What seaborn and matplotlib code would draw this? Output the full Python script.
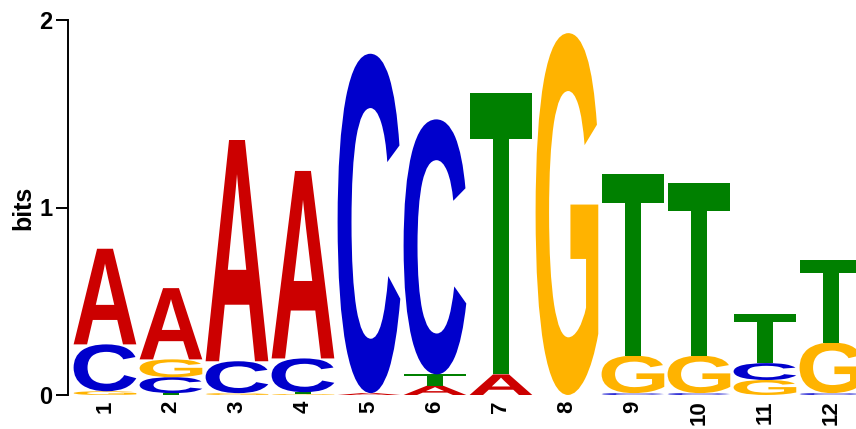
import matplotlib
matplotlib.use("Agg")
import matplotlib.pyplot as plt
import seaborn as sns
from matplotlib.textpath import TextPath
from matplotlib.patches import PathPatch
from matplotlib.font_manager import FontProperties
from matplotlib.transforms import Affine2D

# information content (bits) per letter at each motif position
positions = list(range(1, 13))
bits_A = [0.51, 0.38, 1.18, 1.00, 0.01, 0.05, 0.11, 0.00, 0.00, 0.00, 0.00, 0.00]
bits_C = [0.25, 0.085, 0.17, 0.18, 1.81, 1.36, 0.00, 0.00, 0.01, 0.01, 0.09, 0.01]
bits_G = [0.02, 0.095, 0.01, 0.005, 0.00, 0.00, 0.00, 1.93, 0.20, 0.20, 0.08, 0.27]
bits_T = [0.00, 0.01, 0.00, 0.01, 0.00, 0.06, 1.50, 0.00, 0.97, 0.92, 0.26, 0.44]
letter_colors = {"A": "#CC0000", "C": "#0000CC", "G": "#FFB300", "T": "#008000"}

sns.set_style("ticks")
plt.rcParams["font.family"] = ["Liberation Sans", "DejaVu Sans"]
plt.rcParams["font.weight"] = "bold"

fig = plt.figure(figsize=(8.56, 4.29), dpi=100)
ax = fig.add_axes([68 / 856, 34 / 429, 1 - 68 / 856, 375 / 429])

glyph_font = FontProperties(family="Liberation Sans", weight="bold")
col_width = 0.95

heights = {"A": bits_A, "C": bits_C, "G": bits_G, "T": bits_T}
for i, pos in enumerate(positions):
    stack = sorted(((heights[l][i], l) for l in "ACGT"), key=lambda t: t[0])
    y = 0.0
    for h, letter in stack:
        if h <= 0:
            continue
        tp = TextPath((0, 0), letter, size=1, prop=glyph_font)
        bb = tp.get_extents()
        tr = (Affine2D()
              .translate(-bb.x0, -bb.y0)
              .scale(col_width / bb.width, h / bb.height)
              .translate(pos - col_width / 2, y))
        ax.add_patch(PathPatch(tr.transform_path(tp), facecolor=letter_colors[letter],
                               edgecolor="none"))
        y += h

ax.set_xlim(0.44, 12.38)
ax.set_ylim(0, 2)
ax.set_yticks([0, 1, 2])
ax.set_xticks(positions)
ax.set_xticklabels([str(p) for p in positions], rotation=90, fontsize=16,
                   fontweight="bold")
ax.set_yticklabels(["0", "1", "2"], fontsize=17, fontweight="bold")
ax.tick_params(axis="x", length=0, pad=4, labelcolor="black")
ax.tick_params(axis="y", length=9, width=1.4, pad=2,
               color="black", labelcolor="black")
ax.set_ylabel("bits", fontsize=18, fontweight="bold", color="black", labelpad=3)
sns.despine(ax=ax, bottom=True)
ax.spines["left"].set_linewidth(1.4)
ax.spines["left"].set_color("black")

fig.savefig("out.png", dpi=100)
